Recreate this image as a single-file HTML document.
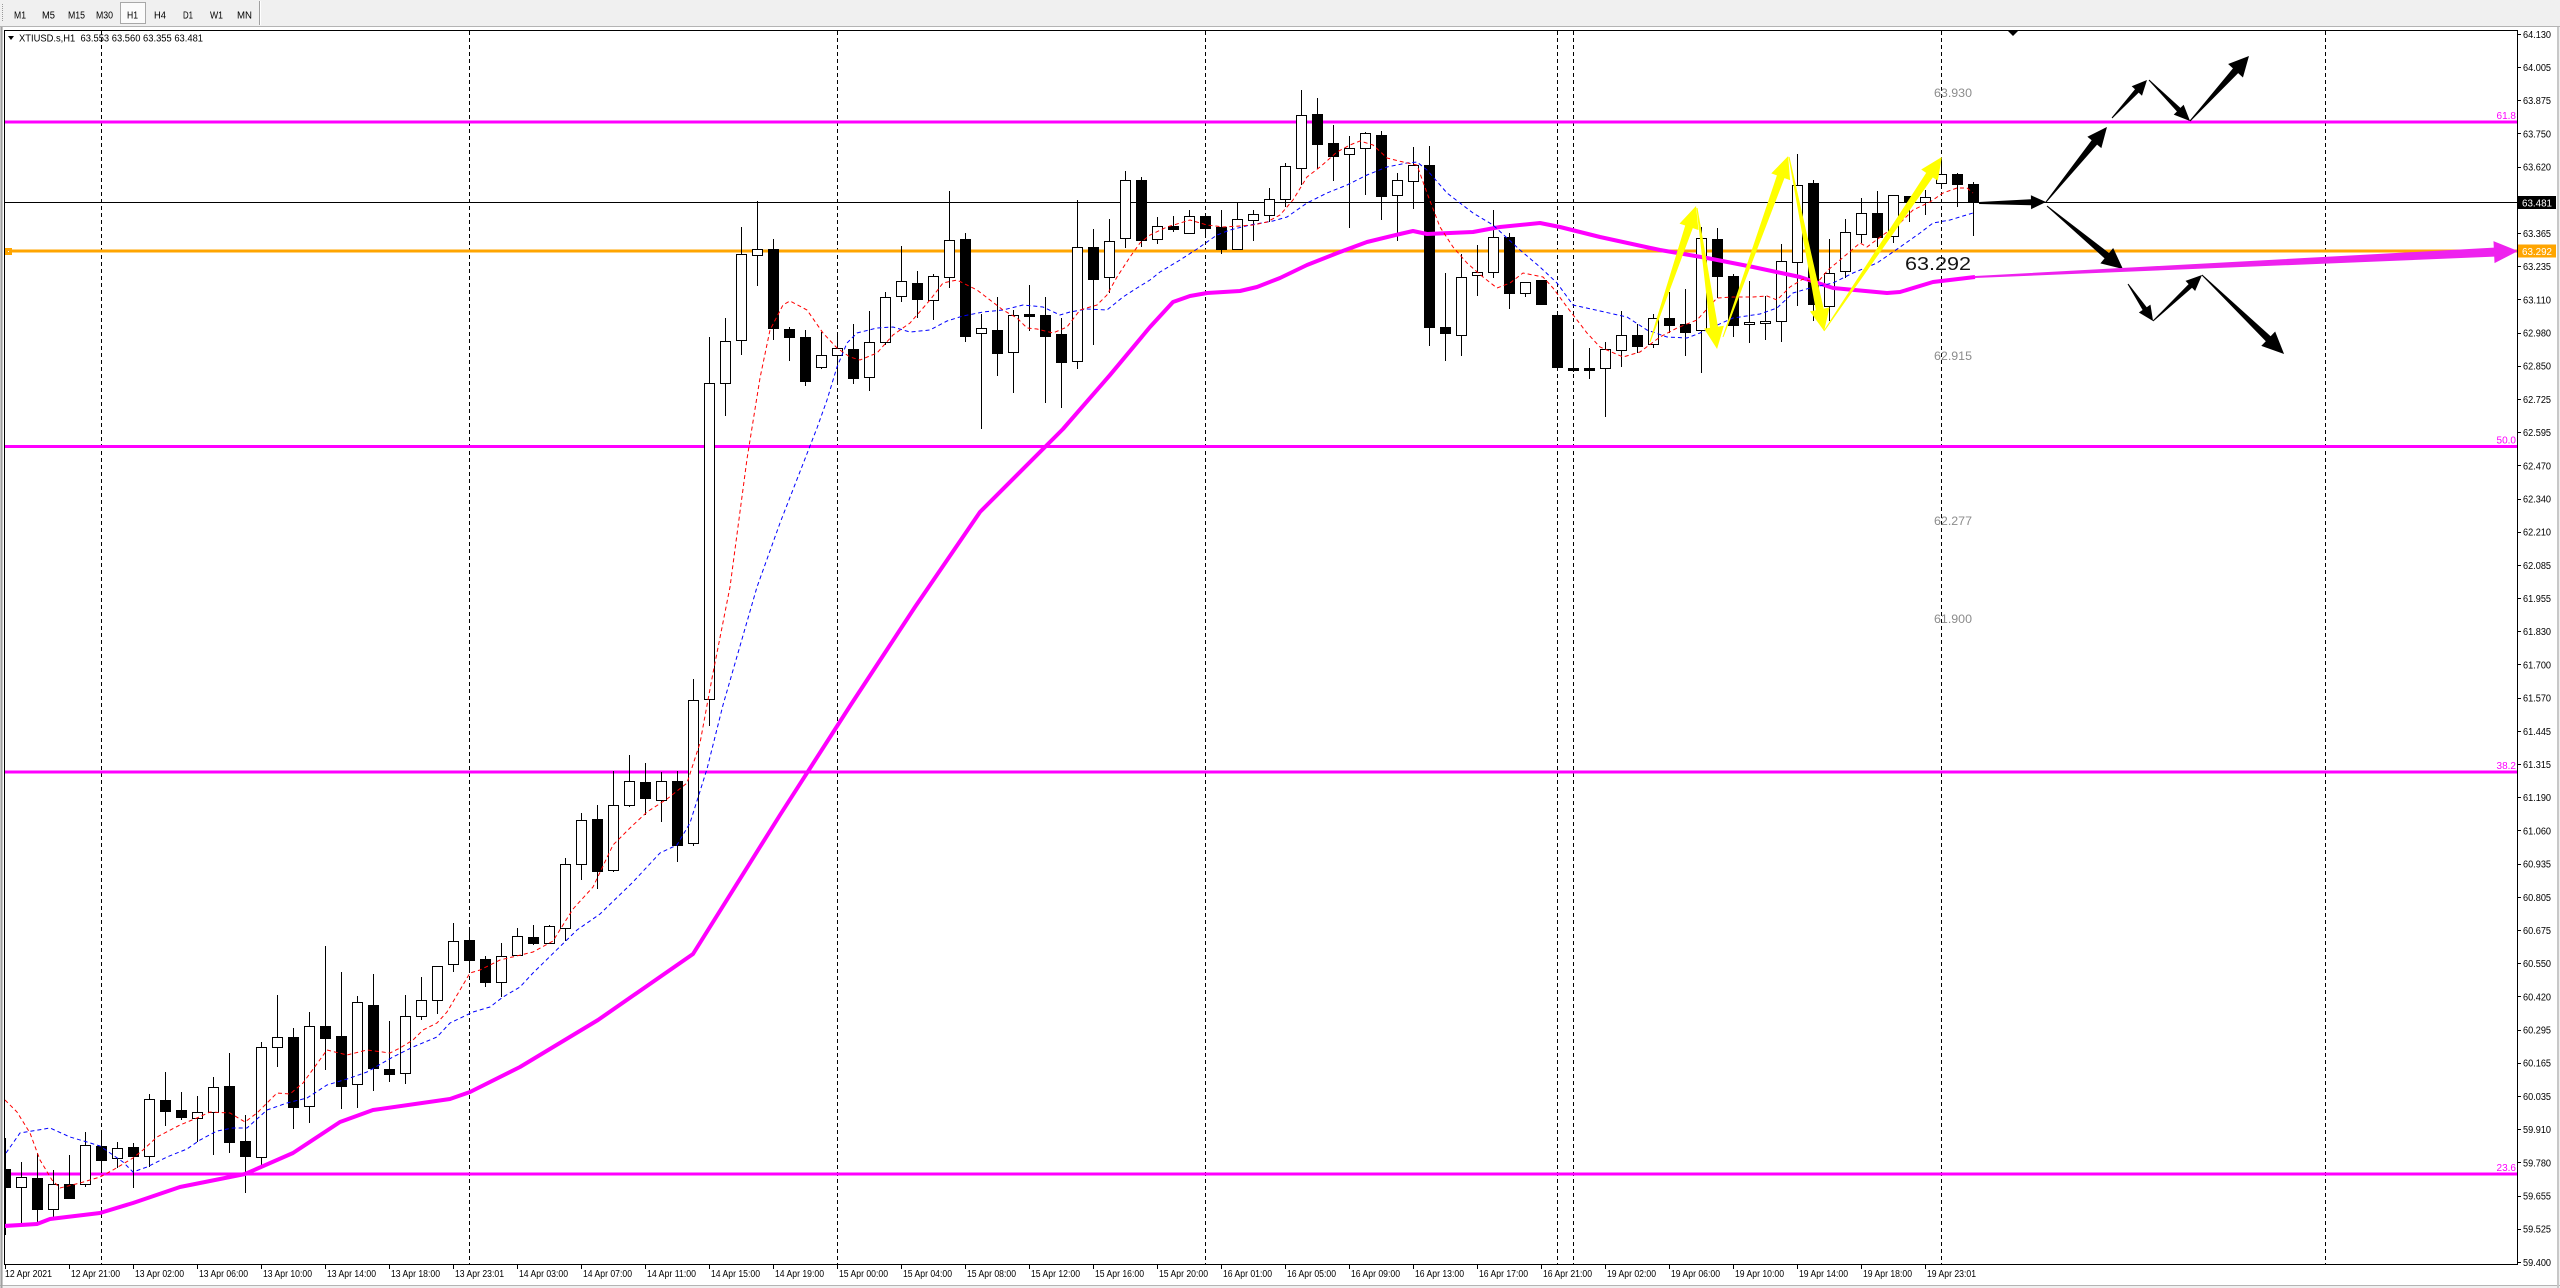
<!DOCTYPE html>
<html><head><meta charset="utf-8"><title>XTIUSD.s,H1</title>
<style>
html,body{margin:0;padding:0;width:2560px;height:1288px;overflow:hidden;background:#f0f0f0;}
svg{display:block;}
text{font-family:"Liberation Sans","DejaVu Sans",sans-serif;}
</style></head>
<body>
<svg xmlns="http://www.w3.org/2000/svg" width="2560" height="1288" viewBox="0 0 2560 1288">
<defs>
<clipPath id="c"><rect x="5" y="31" width="2512" height="1233"/></clipPath>
</defs>
<!-- background -->
<rect x="0" y="0" width="2560" height="1288" fill="#f0f0f0"/>
<rect x="3" y="27" width="2554" height="1258" fill="#ffffff"/>
<line x1="0" y1="26.5" x2="2560" y2="26.5" stroke="#b4b4b4"/>
<line x1="0" y1="1285.5" x2="2560" y2="1285.5" stroke="#b4b4b4"/>
<line x1="1.5" y1="27" x2="1.5" y2="1288" stroke="#a0a0a0" stroke-width="2"/>
<line x1="2558" y1="27" x2="2558" y2="1288" stroke="#c8c8c8" stroke-width="2"/>

<!-- toolbar -->
<line x1="2.5" y1="4" x2="2.5" y2="22" stroke="#9a9a9a" stroke-dasharray="1,1"/>
<rect x="120.5" y="2.5" width="25" height="21" fill="#fbfbfb" stroke="#a8a8a8"/>
<line x1="259.5" y1="1" x2="259.5" y2="25" stroke="#a0a0a0"/>
<line x1="260.5" y1="1" x2="260.5" y2="25" stroke="#ffffff"/>
<g font-size="10" fill="#000">
<text x="14" y="18.5" textLength="12" lengthAdjust="spacingAndGlyphs">M1</text>
<text x="42" y="18.5" textLength="13" lengthAdjust="spacingAndGlyphs">M5</text>
<text x="68" y="18.5" textLength="17" lengthAdjust="spacingAndGlyphs">M15</text>
<text x="96" y="18.5" textLength="17" lengthAdjust="spacingAndGlyphs">M30</text>
<text x="127" y="18.5" textLength="11" lengthAdjust="spacingAndGlyphs">H1</text>
<text x="154" y="18.5" textLength="12" lengthAdjust="spacingAndGlyphs">H4</text>
<text x="183" y="18.5" textLength="10" lengthAdjust="spacingAndGlyphs">D1</text>
<text x="210" y="18.5" textLength="13" lengthAdjust="spacingAndGlyphs">W1</text>
<text x="237" y="18.5" textLength="15" lengthAdjust="spacingAndGlyphs">MN</text>
</g>

<!-- grid vertical dashed -->
<g clip-path="url(#c)" stroke="#000" stroke-width="1" stroke-dasharray="4,3">
<line x1="101.5" y1="31" x2="101.5" y2="1264"/>
<line x1="469.5" y1="31" x2="469.5" y2="1264"/>
<line x1="837.5" y1="31" x2="837.5" y2="1264"/>
<line x1="1205.5" y1="31" x2="1205.5" y2="1264"/>
<line x1="1557.5" y1="31" x2="1557.5" y2="1264"/>
<line x1="1573.5" y1="31" x2="1573.5" y2="1264"/>
<line x1="1941.5" y1="31" x2="1941.5" y2="1264"/>
<line x1="2325.5" y1="31" x2="2325.5" y2="1264"/>
</g>

<!-- horizontal lines -->
<g clip-path="url(#c)">
<line x1="4" y1="122" x2="2517" y2="122" stroke="#ff00ff" stroke-width="3"/>
<line x1="4" y1="446.5" x2="2517" y2="446.5" stroke="#ff00ff" stroke-width="3"/>
<line x1="4" y1="772" x2="2517" y2="772" stroke="#ff00ff" stroke-width="3"/>
<line x1="4" y1="1174" x2="2517" y2="1174" stroke="#ff00ff" stroke-width="3"/>
<line x1="4" y1="251" x2="2517" y2="251" stroke="#ffa500" stroke-width="3"/>
<line x1="4" y1="202.5" x2="2517" y2="202.5" stroke="#000" stroke-width="1"/>
</g>
<rect x="5" y="248" width="7" height="7" fill="#ffa500"/>
<rect x="8" y="251" width="1" height="1" fill="#fff"/>

<!-- candles -->
<g clip-path="url(#c)">
<path stroke="#000" stroke-width="1" fill="none" d="M5.5 1138V1235M21.5 1162V1224M37.5 1153V1224M53.5 1170V1217M69.5 1155V1198M85.5 1132V1187M101.5 1134V1173M117.5 1142V1168M133.5 1143V1188M149.5 1094V1167M165.5 1072V1126M181.5 1092V1120M197.5 1096V1142M213.5 1077V1155M229.5 1053V1153M245.5 1115V1193M261.5 1042V1167M277.5 995V1067M293.5 1028V1129M309.5 1012V1123M325.5 946V1070M341.5 972V1109M357.5 996V1108M373.5 974V1091M389.5 1021V1082M405.5 995V1084M421.5 977V1020M437.5 966V1014M453.5 923V972M469.5 930V973M485.5 956V987M501.5 943V997M517.5 928V956M533.5 925V945M549.5 925V944M565.5 858V941M581.5 813V880M597.5 805V889M613.5 771V872M629.5 755V807M645.5 763V815M661.5 772V822M677.5 771V862M693.5 679V846M709.5 337V726M725.5 318V416M741.5 227V355M757.5 201V286M773.5 239V340M789.5 327V361M805.5 330V386M821.5 332V369M837.5 336V381M853.5 324V384M869.5 311V391M885.5 292V345M901.5 246V302M917.5 271V318M933.5 274V320M949.5 191V288M965.5 233V342M981.5 314V429M997.5 297V376M1013.5 310V393M1029.5 285V331M1045.5 297V403M1061.5 318V408M1077.5 200V369M1093.5 229V345M1109.5 219V293M1125.5 171V248M1141.5 177V247M1157.5 217V244M1173.5 216V232M1189.5 210V233M1205.5 216V237M1221.5 210V254M1237.5 203V250M1253.5 210V241M1269.5 188V222M1285.5 163V207M1301.5 90V185M1317.5 98V169M1333.5 125V181M1349.5 136V228M1365.5 132V195M1381.5 131V220M1397.5 173V241M1413.5 147V209M1429.5 146V346M1445.5 273V361M1461.5 254V356M1477.5 245V296M1493.5 210V278M1509.5 233V309M1525.5 282V297M1541.5 280V305M1557.5 315V367M1573.5 343V372M1589.5 348V379M1605.5 342V417M1621.5 311V367M1637.5 324V353M1653.5 314V348M1669.5 292V333M1685.5 289V356M1701.5 227V373M1717.5 228V298M1733.5 274V337M1749.5 281V343M1765.5 296V340M1781.5 244V342M1797.5 154V306M1813.5 180V321M1829.5 239V321M1845.5 219V278M1861.5 198V243M1877.5 191V247M1893.5 195V243M1909.5 196V222M1925.5 190V215M1941.5 160V185M1957.5 173V207M1973.5 182V236"/>
<g fill="#fff" stroke="#000" stroke-width="1">
<rect x="16.5" y="1177.5" width="10" height="10"/>
<rect x="48.5" y="1184.5" width="10" height="25"/>
<rect x="80.5" y="1145.5" width="10" height="39"/>
<rect x="112.5" y="1148.5" width="10" height="10"/>
<rect x="144.5" y="1099.5" width="10" height="57"/>
<rect x="192.5" y="1112.5" width="10" height="6"/>
<rect x="208.5" y="1087.5" width="10" height="25"/>
<rect x="256.5" y="1047.5" width="10" height="110"/>
<rect x="272.5" y="1037.5" width="10" height="10"/>
<rect x="304.5" y="1026.5" width="10" height="80"/>
<rect x="352.5" y="1002.5" width="10" height="82"/>
<rect x="400.5" y="1016.5" width="10" height="57"/>
<rect x="416.5" y="1000.5" width="10" height="16"/>
<rect x="432.5" y="966.5" width="10" height="34"/>
<rect x="448.5" y="941.5" width="10" height="23"/>
<rect x="496.5" y="956.5" width="10" height="26"/>
<rect x="512.5" y="936.5" width="10" height="19"/>
<rect x="544.5" y="926.5" width="10" height="17"/>
<rect x="560.5" y="864.5" width="10" height="64"/>
<rect x="576.5" y="820.5" width="10" height="44"/>
<rect x="608.5" y="805.5" width="10" height="65"/>
<rect x="624.5" y="781.5" width="10" height="24"/>
<rect x="656.5" y="781.5" width="10" height="19"/>
<rect x="688.5" y="700.5" width="10" height="143"/>
<rect x="704.5" y="383.5" width="10" height="316"/>
<rect x="720.5" y="341.5" width="10" height="42"/>
<rect x="736.5" y="254.5" width="10" height="86"/>
<rect x="752.5" y="249.5" width="10" height="6"/>
<rect x="816.5" y="355.5" width="10" height="12"/>
<rect x="832.5" y="348.5" width="10" height="7"/>
<rect x="864.5" y="342.5" width="10" height="35"/>
<rect x="880.5" y="297.5" width="10" height="45"/>
<rect x="896.5" y="281.5" width="10" height="15"/>
<rect x="928.5" y="276.5" width="10" height="24"/>
<rect x="944.5" y="240.5" width="10" height="37"/>
<rect x="976.5" y="328.5" width="10" height="5"/>
<rect x="1008.5" y="315.5" width="10" height="37"/>
<rect x="1072.5" y="247.5" width="10" height="114"/>
<rect x="1104.5" y="241.5" width="10" height="36"/>
<rect x="1120.5" y="180.5" width="10" height="58"/>
<rect x="1152.5" y="226.5" width="10" height="13"/>
<rect x="1184.5" y="216.5" width="10" height="17"/>
<rect x="1232.5" y="219.5" width="10" height="30"/>
<rect x="1248.5" y="214.5" width="10" height="6"/>
<rect x="1264.5" y="199.5" width="10" height="16"/>
<rect x="1280.5" y="166.5" width="10" height="33"/>
<rect x="1296.5" y="115.5" width="10" height="53"/>
<rect x="1344.5" y="148.5" width="10" height="6"/>
<rect x="1360.5" y="133.5" width="10" height="15"/>
<rect x="1392.5" y="180.5" width="10" height="15"/>
<rect x="1408.5" y="165.5" width="10" height="16"/>
<rect x="1456.5" y="277.5" width="10" height="58"/>
<rect x="1472.5" y="272.5" width="10" height="3"/>
<rect x="1488.5" y="237.5" width="10" height="35"/>
<rect x="1520.5" y="282.5" width="10" height="11"/>
<rect x="1600.5" y="349.5" width="10" height="19"/>
<rect x="1616.5" y="335.5" width="10" height="15"/>
<rect x="1648.5" y="318.5" width="10" height="26"/>
<rect x="1696.5" y="238.5" width="10" height="92"/>
<rect x="1744.5" y="322.5" width="10" height="2"/>
<rect x="1760.5" y="321.5" width="10" height="2"/>
<rect x="1776.5" y="261.5" width="10" height="60"/>
<rect x="1792.5" y="185.5" width="10" height="77"/>
<rect x="1824.5" y="273.5" width="10" height="33"/>
<rect x="1840.5" y="232.5" width="10" height="39"/>
<rect x="1856.5" y="213.5" width="10" height="21"/>
<rect x="1888.5" y="195.5" width="10" height="41"/>
<rect x="1920.5" y="197.5" width="10" height="5"/>
<rect x="1936.5" y="174.5" width="10" height="9"/>
</g>
<g fill="#000">
<rect x="0" y="1169" width="11" height="19"/>
<rect x="32" y="1178" width="11" height="32"/>
<rect x="64" y="1184" width="11" height="15"/>
<rect x="96" y="1146" width="11" height="15"/>
<rect x="128" y="1147" width="11" height="10"/>
<rect x="160" y="1100" width="11" height="12"/>
<rect x="176" y="1110" width="11" height="8"/>
<rect x="224" y="1086" width="11" height="57"/>
<rect x="240" y="1141" width="11" height="16"/>
<rect x="288" y="1037" width="11" height="71"/>
<rect x="320" y="1026" width="11" height="13"/>
<rect x="336" y="1036" width="11" height="51"/>
<rect x="368" y="1005" width="11" height="64"/>
<rect x="384" y="1069" width="11" height="6"/>
<rect x="464" y="940" width="11" height="21"/>
<rect x="480" y="959" width="11" height="24"/>
<rect x="528" y="937" width="11" height="7"/>
<rect x="592" y="819" width="11" height="53"/>
<rect x="640" y="782" width="11" height="17"/>
<rect x="672" y="781" width="11" height="65"/>
<rect x="768" y="249" width="11" height="80"/>
<rect x="784" y="329" width="11" height="9"/>
<rect x="800" y="337" width="11" height="45"/>
<rect x="848" y="349" width="11" height="30"/>
<rect x="912" y="283" width="11" height="17"/>
<rect x="960" y="239" width="11" height="98"/>
<rect x="992" y="330" width="11" height="24"/>
<rect x="1024" y="314" width="11" height="3"/>
<rect x="1040" y="315" width="11" height="22"/>
<rect x="1056" y="334" width="11" height="29"/>
<rect x="1088" y="247" width="11" height="33"/>
<rect x="1136" y="180" width="11" height="61"/>
<rect x="1168" y="226" width="11" height="4"/>
<rect x="1200" y="216" width="11" height="13"/>
<rect x="1216" y="227" width="11" height="23"/>
<rect x="1312" y="114" width="11" height="31"/>
<rect x="1328" y="143" width="11" height="14"/>
<rect x="1376" y="135" width="11" height="62"/>
<rect x="1424" y="165" width="11" height="163"/>
<rect x="1440" y="327" width="11" height="7"/>
<rect x="1504" y="237" width="11" height="57"/>
<rect x="1536" y="280" width="11" height="25"/>
<rect x="1552" y="315" width="11" height="53"/>
<rect x="1568" y="368" width="11" height="3"/>
<rect x="1584" y="368" width="11" height="3"/>
<rect x="1632" y="335" width="11" height="12"/>
<rect x="1664" y="318" width="11" height="8"/>
<rect x="1680" y="324" width="11" height="9"/>
<rect x="1712" y="239" width="11" height="38"/>
<rect x="1728" y="276" width="11" height="50"/>
<rect x="1808" y="183" width="11" height="122"/>
<rect x="1872" y="213" width="11" height="25"/>
<rect x="1904" y="196" width="11" height="7"/>
<rect x="1952" y="174" width="11" height="11"/>
<rect x="1968" y="184" width="11" height="19"/>
</g>

<!-- moving averages -->
<polyline fill="none" stroke="#ff00ff" stroke-width="4" stroke-linejoin="round" points="4,1226 37,1224 50,1219 100,1213 133,1203 180,1187 230,1177 245,1174 293,1153 340,1122 373,1110 450,1099 470,1092 520,1067 598,1020 693,954 780,815 850,706 915,607 980,512 1063,429 1110,375 1150,327 1173,302 1190,296 1207,293 1240,291 1257,287 1280,278 1307,265 1340,252 1367,242 1400,234 1413,231 1427,234 1473,232 1500,227 1540,223 1560,227 1600,237 1660,250 1707,258 1753,267 1800,277 1833,288 1887,293 1900,292 1933,282 1975,277"/>
<polyline fill="none" stroke="#0000ff" stroke-width="1" stroke-dasharray="4,3" points="6,1153 20,1133 50,1128 70,1137 87,1142 100,1146 123,1162 133,1172 147,1167 167,1157 187,1149 200,1140 217,1131 233,1128 247,1128 267,1110 287,1103 307,1098 327,1085 347,1079 367,1072 393,1057 413,1047 437,1037 450,1023 473,1012 490,1007 503,997 520,987 533,973 577,930 600,914 633,882 660,853 677,845 690,823 707,769 723,705 740,646 757,587 780,523 817,428 827,400 837,367 847,343 857,333 877,328 893,327 910,332 930,330 947,321 963,316 983,312 1003,310 1023,305 1043,307 1060,315 1070,312 1087,309 1107,310 1123,297 1137,288 1150,280 1160,272 1180,260 1197,249 1217,235 1230,230 1250,225 1273,221 1287,217 1307,203 1327,193 1347,185 1367,175 1387,167 1407,163 1417,162 1427,170 1447,193 1460,203 1473,213 1493,225 1507,238 1520,250 1540,267 1557,283 1573,305 1600,311 1627,317 1647,330 1667,337 1687,338 1700,333 1713,327 1733,318 1760,314 1777,308 1793,293 1810,288 1833,283 1853,273 1877,263 1893,252 1920,233 1933,223 1950,220 1973,213"/>
<polyline fill="none" stroke="#ff0000" stroke-width="1" stroke-dasharray="4,3" points="5,1100 17,1112 30,1133 40,1160 52,1180 60,1188 80,1183 100,1177 113,1170 133,1158 143,1150 157,1137 180,1125 197,1118 210,1112 230,1113 245,1122 257,1113 277,1093 290,1094 303,1083 327,1050 347,1055 367,1050 390,1053 400,1048 413,1040 423,1030 437,1023 447,1012 460,990 470,973 480,970 500,960 533,952 553,941 573,909 593,887 613,845 630,828 647,812 667,799 687,783 700,743 713,673 730,587 747,459 760,378 770,330 783,305 790,301 807,310 823,333 837,348 850,357 860,360 877,353 893,335 910,323 930,300 943,283 957,280 977,290 990,300 1003,310 1017,318 1027,328 1037,329 1053,333 1067,327 1080,310 1097,305 1107,295 1117,277 1130,257 1140,243 1150,235 1167,227 1190,220 1207,225 1223,227 1240,226 1253,225 1267,222 1280,215 1293,200 1307,177 1320,167 1337,152 1350,145 1360,141 1373,145 1387,158 1403,162 1417,165 1427,193 1440,227 1453,247 1467,263 1483,277 1497,288 1510,283 1523,273 1543,277 1553,288 1567,307 1587,333 1600,347 1623,357 1640,352 1660,337 1677,328 1697,320 1717,298 1733,297 1753,297 1767,296 1777,300 1790,287 1803,279 1817,283 1828,270 1840,260 1860,243 1867,247 1883,235 1900,223 1913,210 1930,202 1943,193 1957,188 1967,188 1973,193"/>
</g>

<!-- fib labels -->
<g font-size="10" fill="#ff00ff" text-anchor="end">
<text x="2516" y="119">61.8</text>
<text x="2516" y="443.5">50.0</text>
<text x="2516" y="769">38.2</text>
<text x="2516" y="1171">23.6</text>
</g>

<!-- gray price labels -->
<g font-size="12" fill="#8c8c8c">
<text x="1934" y="97" textLength="38" lengthAdjust="spacingAndGlyphs">63.930</text>
<text x="1934" y="360" textLength="38" lengthAdjust="spacingAndGlyphs">62.915</text>
<text x="1934" y="525" textLength="38" lengthAdjust="spacingAndGlyphs">62.277</text>
<text x="1934" y="623" textLength="38" lengthAdjust="spacingAndGlyphs">61.900</text>
</g>
<text x="1905" y="270" font-size="18" fill="#151515" textLength="66" lengthAdjust="spacingAndGlyphs">63.292</text>

<!-- yellow arrows -->
<g fill="#ffff00">
<polygon transform="translate(1650,342) rotate(-71.3)" points="0,-0.5 121.6,-4 121.6,-10 143.6,0 121.6,10 121.6,4 0,0.5"/>
<polygon transform="translate(1697,208) rotate(81.9)" points="0,-0.5 120.4,-4 120.4,-10 142.4,0 120.4,10 120.4,4 0,0.5"/>
<polygon transform="translate(1723,337) rotate(-70.2)" points="0,-0.5 170.3,-4 170.3,-10 192.3,0 170.3,10 170.3,4 0,0.5"/>
<polygon transform="translate(1789,157) rotate(78.6)" points="0,-0.5 155.5,-4 155.5,-10 177.5,0 155.5,10 155.5,4 0,0.5"/>
<polygon transform="translate(1824,331) rotate(-55.9)" points="0,-0.5 188.2,-4 188.2,-10 210.2,0 188.2,10 188.2,4 0,0.5"/>
</g>

<!-- black arrows -->
<g fill="#000">
<polygon transform="translate(1979,203) rotate(-0.86)" points="0,-1 52,-3 52,-7 67,0 52,7 52,3 0,1"/>
<polygon transform="translate(2046,202) rotate(-50.9)" points="0,-0.5 76.7,-3.5 76.7,-9 96.7,0 76.7,9 76.7,3.5 0,0.5"/>
<polygon transform="translate(2112,118) rotate(-47.4)" points="0,-0.5 36.7,-2.5 36.7,-7 51.7,0 36.7,7 36.7,2.5 0,0.5"/>
<polygon transform="translate(2149,80) rotate(45)" points="0,-0.5 42,-2.5 42,-7 58,0 42,7 42,2.5 0,0.5"/>
<polygon transform="translate(2190,121) rotate(-47.8)" points="0,-0.5 67.8,-3.5 67.8,-10 87.8,0 67.8,10 67.8,3.5 0,0.5"/>
<polygon transform="translate(2047,206) rotate(39.7)" points="0,-0.5 77.7,-3.5 77.7,-10 98.7,0 77.7,10 77.7,3.5 0,0.5"/>
<polygon transform="translate(2128,284) rotate(55.9)" points="0,-0.5 29.7,-2.5 29.7,-7 44.7,0 29.7,7 29.7,2.5 0,0.5"/>
<polygon transform="translate(2153,321) rotate(-43.2)" points="0,-0.5 51.2,-2.5 51.2,-7 67.2,0 51.2,7 51.2,2.5 0,0.5"/>
<polygon transform="translate(2202,275) rotate(43.9)" points="0,-0.5 91.9,-3.5 91.9,-10 113.9,0 91.9,10 91.9,3.5 0,0.5"/>
<polygon points="2008,31 2018,31 2013,36"/>
</g>

<!-- magenta arrow -->
<polygon fill="#ee22ee" transform="translate(1975,277) rotate(-2.74)" points="0,-1 519.6,-4.5 519.6,-11 543.6,0 519.6,11 519.6,4.5 0,1"/>

<!-- chart frame -->
<rect x="4.5" y="30.5" width="2513" height="1234" fill="none" stroke="#000" stroke-width="1"/>

<!-- title -->
<polygon points="8,36 14,36 11,40" fill="#000"/>
<text x="19" y="41.5" font-size="10" fill="#000" textLength="184" lengthAdjust="spacingAndGlyphs" xml:space="preserve">XTIUSD.s,H1  63.553 63.560 63.355 63.481</text>

<!-- price axis ticks -->
<path stroke="#000" stroke-width="1" d="M2517 34.5h4M2517 67.5h4M2517 100.5h4M2517 133.5h4M2517 167.5h4M2517 200.5h4M2517 233.5h4M2517 266.5h4M2517 299.5h4M2517 333.5h4M2517 366.5h4M2517 399.5h4M2517 432.5h4M2517 465.5h4M2517 499.5h4M2517 532.5h4M2517 565.5h4M2517 598.5h4M2517 631.5h4M2517 664.5h4M2517 698.5h4M2517 731.5h4M2517 764.5h4M2517 797.5h4M2517 830.5h4M2517 864.5h4M2517 897.5h4M2517 930.5h4M2517 963.5h4M2517 996.5h4M2517 1030.5h4M2517 1063.5h4M2517 1096.5h4M2517 1129.5h4M2517 1162.5h4M2517 1196.5h4M2517 1229.5h4M2517 1262.5h4"/>
<g font-size="10" fill="#000">
<text x="2523" y="37.8" textLength="28" lengthAdjust="spacingAndGlyphs">64.130</text>
<text x="2523" y="71" textLength="28" lengthAdjust="spacingAndGlyphs">64.005</text>
<text x="2523" y="104.2" textLength="28" lengthAdjust="spacingAndGlyphs">63.875</text>
<text x="2523" y="137.4" textLength="28" lengthAdjust="spacingAndGlyphs">63.750</text>
<text x="2523" y="170.6" textLength="28" lengthAdjust="spacingAndGlyphs">63.620</text>
<text x="2523" y="236.9" textLength="28" lengthAdjust="spacingAndGlyphs">63.365</text>
<text x="2523" y="270.1" textLength="28" lengthAdjust="spacingAndGlyphs">63.235</text>
<text x="2523" y="303.3" textLength="28" lengthAdjust="spacingAndGlyphs">63.110</text>
<text x="2523" y="336.5" textLength="28" lengthAdjust="spacingAndGlyphs">62.980</text>
<text x="2523" y="369.7" textLength="28" lengthAdjust="spacingAndGlyphs">62.850</text>
<text x="2523" y="402.9" textLength="28" lengthAdjust="spacingAndGlyphs">62.725</text>
<text x="2523" y="436.1" textLength="28" lengthAdjust="spacingAndGlyphs">62.595</text>
<text x="2523" y="469.3" textLength="28" lengthAdjust="spacingAndGlyphs">62.470</text>
<text x="2523" y="502.5" textLength="28" lengthAdjust="spacingAndGlyphs">62.340</text>
<text x="2523" y="535.7" textLength="28" lengthAdjust="spacingAndGlyphs">62.210</text>
<text x="2523" y="568.9" textLength="28" lengthAdjust="spacingAndGlyphs">62.085</text>
<text x="2523" y="602.1" textLength="28" lengthAdjust="spacingAndGlyphs">61.955</text>
<text x="2523" y="635.2" textLength="28" lengthAdjust="spacingAndGlyphs">61.830</text>
<text x="2523" y="668.4" textLength="28" lengthAdjust="spacingAndGlyphs">61.700</text>
<text x="2523" y="701.6" textLength="28" lengthAdjust="spacingAndGlyphs">61.570</text>
<text x="2523" y="734.8" textLength="28" lengthAdjust="spacingAndGlyphs">61.445</text>
<text x="2523" y="768" textLength="28" lengthAdjust="spacingAndGlyphs">61.315</text>
<text x="2523" y="801.2" textLength="28" lengthAdjust="spacingAndGlyphs">61.190</text>
<text x="2523" y="834.4" textLength="28" lengthAdjust="spacingAndGlyphs">61.060</text>
<text x="2523" y="867.6" textLength="28" lengthAdjust="spacingAndGlyphs">60.935</text>
<text x="2523" y="900.8" textLength="28" lengthAdjust="spacingAndGlyphs">60.805</text>
<text x="2523" y="933.9" textLength="28" lengthAdjust="spacingAndGlyphs">60.675</text>
<text x="2523" y="967.1" textLength="28" lengthAdjust="spacingAndGlyphs">60.550</text>
<text x="2523" y="1000.3" textLength="28" lengthAdjust="spacingAndGlyphs">60.420</text>
<text x="2523" y="1033.5" textLength="28" lengthAdjust="spacingAndGlyphs">60.295</text>
<text x="2523" y="1066.7" textLength="28" lengthAdjust="spacingAndGlyphs">60.165</text>
<text x="2523" y="1099.9" textLength="28" lengthAdjust="spacingAndGlyphs">60.035</text>
<text x="2523" y="1133.1" textLength="28" lengthAdjust="spacingAndGlyphs">59.910</text>
<text x="2523" y="1166.3" textLength="28" lengthAdjust="spacingAndGlyphs">59.780</text>
<text x="2523" y="1199.5" textLength="28" lengthAdjust="spacingAndGlyphs">59.655</text>
<text x="2523" y="1232.6" textLength="28" lengthAdjust="spacingAndGlyphs">59.525</text>
<text x="2523" y="1265.8" textLength="28" lengthAdjust="spacingAndGlyphs">59.400</text>
</g>
<!-- current price / orange labels -->
<rect x="2518" y="196" width="38" height="13" fill="#000"/>
<text x="2522" y="206.3" font-size="10" fill="#fff" textLength="30" lengthAdjust="spacingAndGlyphs">63.481</text>
<rect x="2518" y="244.5" width="38" height="13" fill="#ffa500"/>
<text x="2522" y="254.8" font-size="10" fill="#fff" textLength="30" lengthAdjust="spacingAndGlyphs">63.292</text>

<!-- time axis -->
<path stroke="#000" stroke-width="1" d="M5.5 1264v5M69.5 1264v5M133.5 1264v5M197.5 1264v5M261.5 1264v5M325.5 1264v5M389.5 1264v5M453.5 1264v5M517.5 1264v5M581.5 1264v5M645.5 1264v5M709.5 1264v5M773.5 1264v5M837.5 1264v5M901.5 1264v5M965.5 1264v5M1029.5 1264v5M1093.5 1264v5M1157.5 1264v5M1221.5 1264v5M1285.5 1264v5M1349.5 1264v5M1413.5 1264v5M1477.5 1264v5M1541.5 1264v5M1605.5 1264v5M1669.5 1264v5M1733.5 1264v5M1797.5 1264v5M1861.5 1264v5M1925.5 1264v5"/>
<g font-size="10" fill="#000">
<text x="5" y="1277" textLength="47" lengthAdjust="spacingAndGlyphs">12 Apr 2021</text>
<text x="71" y="1277" textLength="49" lengthAdjust="spacingAndGlyphs">12 Apr 21:00</text>
<text x="135" y="1277" textLength="49" lengthAdjust="spacingAndGlyphs">13 Apr 02:00</text>
<text x="199" y="1277" textLength="49" lengthAdjust="spacingAndGlyphs">13 Apr 06:00</text>
<text x="263" y="1277" textLength="49" lengthAdjust="spacingAndGlyphs">13 Apr 10:00</text>
<text x="327" y="1277" textLength="49" lengthAdjust="spacingAndGlyphs">13 Apr 14:00</text>
<text x="391" y="1277" textLength="49" lengthAdjust="spacingAndGlyphs">13 Apr 18:00</text>
<text x="455" y="1277" textLength="49" lengthAdjust="spacingAndGlyphs">13 Apr 23:01</text>
<text x="519" y="1277" textLength="49" lengthAdjust="spacingAndGlyphs">14 Apr 03:00</text>
<text x="583" y="1277" textLength="49" lengthAdjust="spacingAndGlyphs">14 Apr 07:00</text>
<text x="647" y="1277" textLength="49" lengthAdjust="spacingAndGlyphs">14 Apr 11:00</text>
<text x="711" y="1277" textLength="49" lengthAdjust="spacingAndGlyphs">14 Apr 15:00</text>
<text x="775" y="1277" textLength="49" lengthAdjust="spacingAndGlyphs">14 Apr 19:00</text>
<text x="839" y="1277" textLength="49" lengthAdjust="spacingAndGlyphs">15 Apr 00:00</text>
<text x="903" y="1277" textLength="49" lengthAdjust="spacingAndGlyphs">15 Apr 04:00</text>
<text x="967" y="1277" textLength="49" lengthAdjust="spacingAndGlyphs">15 Apr 08:00</text>
<text x="1031" y="1277" textLength="49" lengthAdjust="spacingAndGlyphs">15 Apr 12:00</text>
<text x="1095" y="1277" textLength="49" lengthAdjust="spacingAndGlyphs">15 Apr 16:00</text>
<text x="1159" y="1277" textLength="49" lengthAdjust="spacingAndGlyphs">15 Apr 20:00</text>
<text x="1223" y="1277" textLength="49" lengthAdjust="spacingAndGlyphs">16 Apr 01:00</text>
<text x="1287" y="1277" textLength="49" lengthAdjust="spacingAndGlyphs">16 Apr 05:00</text>
<text x="1351" y="1277" textLength="49" lengthAdjust="spacingAndGlyphs">16 Apr 09:00</text>
<text x="1415" y="1277" textLength="49" lengthAdjust="spacingAndGlyphs">16 Apr 13:00</text>
<text x="1479" y="1277" textLength="49" lengthAdjust="spacingAndGlyphs">16 Apr 17:00</text>
<text x="1543" y="1277" textLength="49" lengthAdjust="spacingAndGlyphs">16 Apr 21:00</text>
<text x="1607" y="1277" textLength="49" lengthAdjust="spacingAndGlyphs">19 Apr 02:00</text>
<text x="1671" y="1277" textLength="49" lengthAdjust="spacingAndGlyphs">19 Apr 06:00</text>
<text x="1735" y="1277" textLength="49" lengthAdjust="spacingAndGlyphs">19 Apr 10:00</text>
<text x="1799" y="1277" textLength="49" lengthAdjust="spacingAndGlyphs">19 Apr 14:00</text>
<text x="1863" y="1277" textLength="49" lengthAdjust="spacingAndGlyphs">19 Apr 18:00</text>
<text x="1927" y="1277" textLength="49" lengthAdjust="spacingAndGlyphs">19 Apr 23:01</text>
</g>
</svg>
</body></html>
